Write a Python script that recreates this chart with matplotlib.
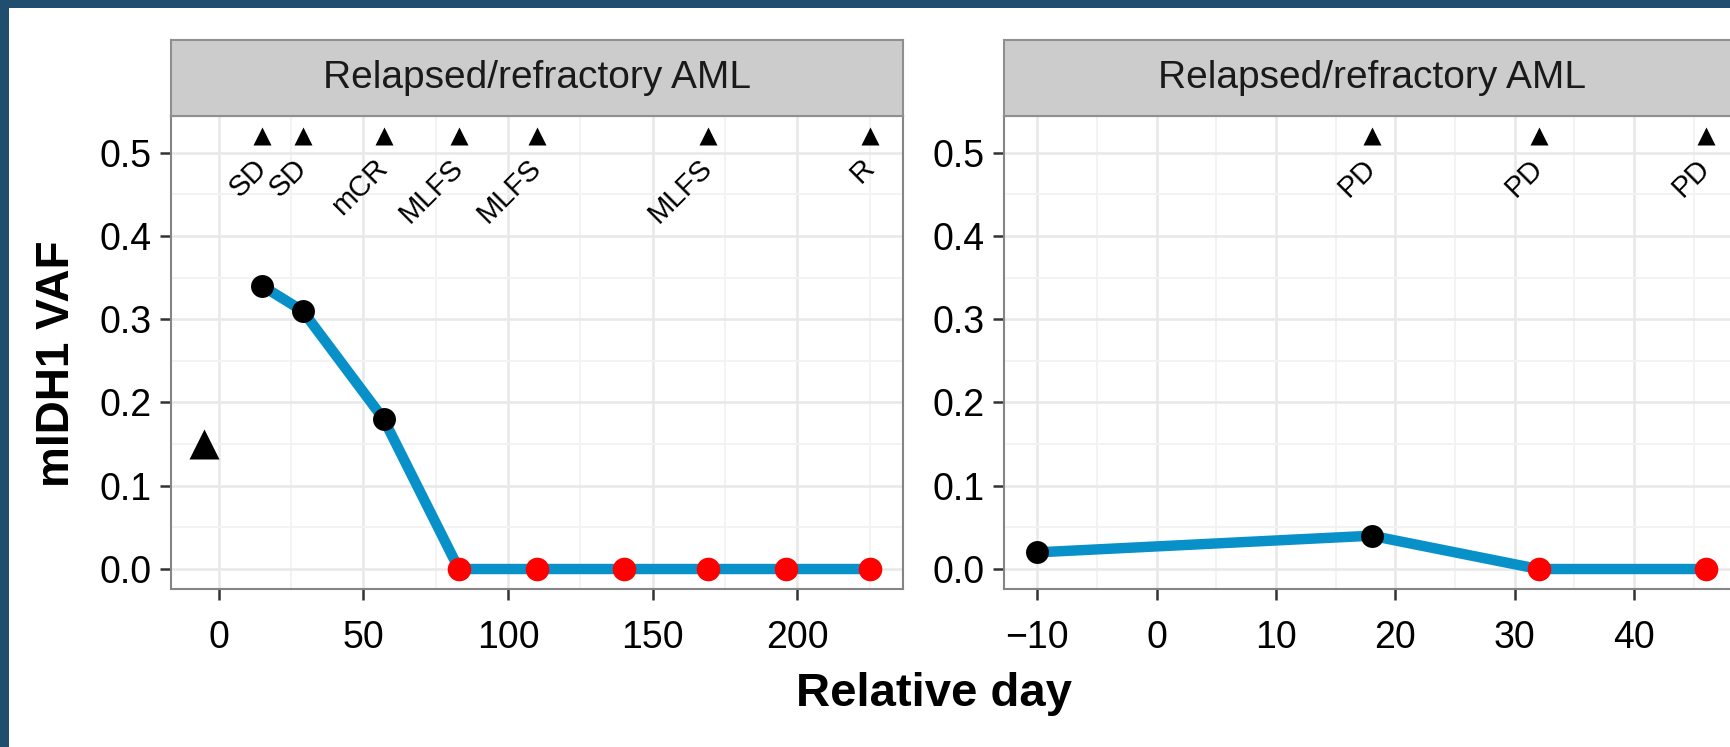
import matplotlib
matplotlib.use('Agg')
import matplotlib.pyplot as plt
from matplotlib.patches import Rectangle
from matplotlib.ticker import MultipleLocator, FixedLocator

# ---------------- data ----------------
strip_title = 'Relapsed/refractory AML'

left_days = [15, 29, 57, 83, 110, 140, 169, 196, 225]
left_vaf = [0.34, 0.31, 0.18, 0.0, 0.0, 0.0, 0.0, 0.0, 0.0]
left_base_day = [-5]
left_base_vaf = [0.15]
left_resp_days = [15, 29, 57, 83, 110, 169, 225]
left_resp_labels = ['SD', 'SD', 'mCR', 'MLFS', 'MLFS', 'MLFS', 'R']
left_xticks = [0, 50, 100, 150, 200]

right_days = [-10, 18, 32, 46]
right_vaf = [0.02, 0.04, 0.0, 0.0]
right_resp_days = [18, 32, 46]
right_resp_labels = ['PD', 'PD', 'PD']
right_xticks = [-10, 0, 10, 20, 30, 40]

yticks = [0.0, 0.1, 0.2, 0.3, 0.4, 0.5]
resp_marker_y = 0.52
resp_label_y = 0.487

# ---------------- style ----------------
W, H = 1731, 747
FONT = 'Liberation Sans'
plt.rcParams['font.family'] = [FONT, 'DejaVu Sans']
LINE_C = '#0891c8'
BORDER_C = '#1f4e6e'

fig = plt.figure(figsize=(W / 100, H / 100), dpi=100)
fig.patch.set_facecolor(BORDER_C)
fig.add_artist(Rectangle((9 / W, 0), 1, 1 - 8 / H, transform=fig.transFigure,
                         facecolor='white', edgecolor='none', zorder=-5))


def box(x0, y0, x1, y1):
    return [x0 / W, 1 - y1 / H, (x1 - x0) / W, (y1 - y0) / H]


def panel(xpix, xlim, xticks, xminor, days, vaf, rdays, rlabels, base=None):
    x0, x1 = xpix
    ax = fig.add_axes(box(x0, 116, x1, 589))
    ax.set_xlim(*xlim)
    ax.set_ylim(-0.024, 0.544)
    ax.xaxis.set_major_locator(FixedLocator(xticks))
    ax.xaxis.set_minor_locator(MultipleLocator(xminor))
    ax.yaxis.set_major_locator(FixedLocator(yticks))
    ax.yaxis.set_minor_locator(MultipleLocator(0.05))
    ax.set_yticklabels([f'{v:.1f}' for v in yticks])
    ax.set_xticklabels([('\u2212' + str(-v)) if v < 0 else str(v) for v in xticks])
    ax.set_axisbelow(True)
    ax.grid(which='major', color='#e8e8e8', lw=1.8)
    ax.grid(which='minor', color='#f3f3f3', lw=1.4)
    ax.tick_params(which='major', length=8, width=1.8, color='#333333',
                   labelsize=27, labelcolor='black')
    ax.tick_params(axis='y', which='major', pad=6)
    ax.tick_params(axis='x', which='major', pad=14)
    ax.tick_params(which='minor', length=0)
    for s in ax.spines.values():
        s.set_color('#858585')
        s.set_linewidth(1.5)

    ax.plot(days, vaf, color=LINE_C, lw=7.5, solid_capstyle='round', zorder=3)
    pos_d = [d for d, v in zip(days, vaf) if v > 0]
    pos_v = [v for v in vaf if v > 0]
    zer_d = [d for d, v in zip(days, vaf) if v == 0]
    zer_v = [v for v in vaf if v == 0]
    ax.plot(pos_d, pos_v, 'o', color='black', ms=16.5, mec='none', zorder=4)
    ax.plot(zer_d, zer_v, 'o', color='#ff0000', ms=17, mec='none', zorder=4,
            clip_on=False)
    if base is not None:
        ax.plot(base[0], base[1], '^', color='black', ms=21, mec='none', zorder=4)
    ax.plot(rdays, [resp_marker_y] * len(rdays), '^', color='black', ms=13,
            mec='none', zorder=4)
    for d, lab in zip(rdays, rlabels):
        ax.text(d, resp_label_y, lab, rotation=45, rotation_mode='anchor',
                ha='right', va='center', fontsize=21, color='black', zorder=5)

    sax = fig.add_axes(box(x0, 40, x1, 116))
    sax.set_facecolor('#cccccc')
    sax.set_xticks([])
    sax.set_yticks([])
    for s in sax.spines.values():
        s.set_color('#8f8f8f')
        s.set_linewidth(1.5)
    sax.text(0.5, 0.5, strip_title, transform=sax.transAxes, ha='center',
             va='center', fontsize=28, color='#1a1a1a')
    return ax


panel((171, 903), (-16.5, 236.5), left_xticks, 25, left_days, left_vaf,
      left_resp_days, left_resp_labels, base=(left_base_day, left_base_vaf))
panel((1004, 1739), (-12.8, 48.8), right_xticks, 5, right_days, right_vaf,
      right_resp_days, right_resp_labels)

fig.text(934 / W, 1 - 694 / H, 'Relative day', ha='center', va='center',
         fontsize=34, fontweight='bold', color='black')
fig.text(57 / W, 1 - 364 / H, 'mIDH1 VAF', ha='center', va='center',
         rotation=90, fontsize=33, fontweight='bold', color='black')

fig.savefig('out.png', dpi=100, facecolor=fig.get_facecolor())
